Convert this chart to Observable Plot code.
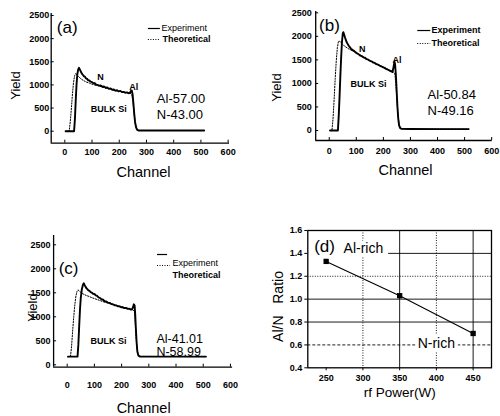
<!DOCTYPE html>
<html><head><meta charset="utf-8">
<script src="https://cdn.jsdelivr.net/npm/d3@7"></script>
<script src="https://cdn.jsdelivr.net/npm/@observablehq/plot@0.6"></script>
<style>
html,body{margin:0;padding:0;background:#fff;}
#fig{position:relative;width:500px;height:416px;overflow:hidden;background:#fff;}
#fig svg{position:absolute;overflow:visible;}
</style></head><body><div id="fig"></div>
<script>
// ---------- data ----------
const channelTicks = [0, 100, 200, 300, 400, 500, 600];
const yieldTicks = [0, 500, 1000, 1500, 2000, 2500];

// [channel, yield]
const aExperiment = [[3,0],[34,0],[37,250],[40,650],[43,1000],[46,1230],[49,1330],[52,1370],[55,1335],[58,1300],[62,1250],[66,1220],[70,1190],[74,1175],[78,1140],[82,1130],[86,1100],[90,1095],[95,1070],[100,1060],[105,1035],[110,1040],[115,1005],[120,1000],[126,985],[132,990],[138,960],[144,965],[150,940],[156,945],[162,915],[168,925],[174,895],[180,900],[186,875],[192,885],[198,860],[204,870],[210,845],[216,850],[222,830],[228,840],[234,820],[239,830],[243,870],[246,880],[249,800],[252,600],[255,380],[258,200],[262,80],[266,30],[272,15],[300,15],[400,15],[512,15]];
const aTheoretical = [[3,0],[16,0],[20,200],[24,480],[28,800],[32,1050],[36,1200],[40,1245],[44,1215],[50,1180],[56,1150],[62,1120],[70,1090],[80,1060],[90,1040],[100,1015],[120,985],[140,950],[160,920],[180,890],[200,862],[220,842],[240,822],[246,790],[250,650],[254,420],[258,200],[262,80],[266,35],[272,15],[512,15]];

const bExperiment = [[3,0],[32,0],[35,300],[38,700],[41,1150],[44,1550],[47,1880],[50,2060],[52,2090],[55,2040],[58,1980],[61,1930],[64,1880],[68,1840],[72,1800],[76,1770],[80,1740],[84,1720],[88,1700],[92,1690],[96,1665],[100,1650],[105,1630],[110,1615],[115,1590],[120,1580],[126,1555],[132,1545],[138,1515],[144,1505],[150,1480],[156,1470],[162,1445],[168,1435],[174,1410],[180,1400],[186,1380],[192,1365],[198,1345],[204,1330],[210,1310],[216,1295],[222,1275],[228,1262],[233,1245],[236,1300],[239,1400],[241,1460],[243,1420],[246,1200],[249,850],[252,500],[255,250],[258,110],[262,50],[268,35],[300,32],[400,30],[515,30]];
const bTheoretical = [[3,0],[10,0],[14,250],[18,650],[22,1100],[26,1480],[30,1760],[34,1890],[38,1900],[42,1870],[48,1840],[55,1800],[62,1770],[70,1740],[80,1710],[90,1680],[100,1650],[120,1585],[140,1515],[160,1455],[180,1400],[200,1345],[220,1290],[236,1250],[242,1220],[246,1000],[250,650],[254,330],[258,140],[262,60],[268,35],[515,30]];

const cExperiment = [[3,170],[38,170],[41,420],[44,800],[47,1150],[50,1400],[54,1580],[58,1670],[61,1700],[64,1660],[67,1630],[70,1600],[74,1575],[78,1550],[82,1540],[86,1515],[90,1505],[95,1480],[100,1475],[105,1445],[110,1435],[115,1405],[120,1395],[126,1365],[132,1355],[138,1325],[144,1320],[150,1295],[156,1290],[162,1265],[168,1262],[174,1240],[180,1238],[186,1220],[192,1218],[198,1200],[204,1198],[210,1182],[216,1185],[222,1165],[228,1168],[234,1150],[239,1158],[242,1200],[245,1260],[248,1230],[250,1050],[252,800],[255,480],[258,270],[262,190],[268,172],[300,170],[510,170]];
const cTheoretical = [[3,170],[12,170],[16,380],[20,700],[24,1000],[28,1250],[32,1430],[36,1530],[40,1560],[44,1540],[50,1510],[56,1485],[62,1465],[70,1445],[80,1425],[90,1400],[100,1380],[120,1340],[140,1300],[160,1270],[180,1240],[200,1210],[220,1180],[240,1150],[247,1110],[250,900],[253,600],[256,380],[260,220],[265,175],[510,170]];

const aComposition = ["Al-57.00", "N-43.00"];
const bComposition = ["Al-50.84", "N-49.16"];
const cComposition = ["Al-41.01", "N-58.99"];

const rfPower = [250, 350, 450];
const alnRatio = [1.33, 1.03, 0.70];
const powerTicks = [250, 300, 350, 400, 450];
const ratioTicks = [0.4, 0.6, 0.8, 1.0, 1.2, 1.4, 1.6];

// ---------- helpers ----------
const FONT = "'Liberation Sans', Arial, Helvetica, sans-serif";
const fig = document.getElementById("fig");
function place(svg, left, top) {
  svg.style.left = left + "px";
  svg.style.top = top + "px";
  fig.appendChild(svg);
}
function T(x, y, text, opts = {}) {
  return Plot.text([{x, y, text}], {x: "x", y: "y", text: "text", fill: "#000", fontSize: 9, fontWeight: "bold", ...opts});
}
const toRows = (arr) => arr.map(([c, v]) => ({c, v}));

function rbsPanel(cfg) {
  const W = 250, H = 208;
  const {xDomain, yDomain, ml, mr, mt, mb, yPad, xPad} = cfg;
  const xu = (xDomain[1] - xDomain[0]) / (W - ml - mr);
  const yu = (yDomain[1] - yDomain[0]) / (H - mt - mb);
  const [x0] = xDomain, [y0] = yDomain;
  return Plot.plot({
    width: W, height: H,
    marginLeft: ml, marginRight: mr, marginTop: mt, marginBottom: mb,
    style: {fontFamily: FONT, fontSize: "9px", fontWeight: "bold", background: "transparent", color: "#000"},
    x: {domain: xDomain, ticks: channelTicks, tickSize: 0, tickPadding: xPad, label: null, tickFormat: d => String(d)},
    y: {domain: yDomain, ticks: yieldTicks, tickSize: 0, tickPadding: yPad, label: null, tickFormat: d => String(d)},
    marks: [
      Plot.ruleX([x0], {stroke: "#000", strokeWidth: 1.3}),
      Plot.ruleY([y0], {stroke: "#000", strokeWidth: 1.3}),
      Plot.ruleY(yieldTicks, {x1: x0, x2: x0 + 3 * xu, stroke: "#000", strokeWidth: 1}),
      Plot.ruleX(channelTicks, {y1: y0, y2: y0 + 3 * yu, stroke: "#000", strokeWidth: 1}),
      Plot.line(toRows(cfg.theo), {x: "c", y: "v", stroke: "#000", strokeWidth: 1, strokeDasharray: "1.3,1.5"}),
      Plot.line(toRows(cfg.exp), {x: "c", y: "v", stroke: "#000", strokeWidth: 1.9}),
      ...cfg.ann
    ]
  });
}

// ---------- panel (a) ----------
place(rbsPanel({
  exp: aExperiment, theo: aTheoretical,
  xDomain: [-50, 605], yDomain: [-259, 2543],
  ml: 50.7, mr: 21, mt: 13, mb: 65.3, yPad: 2, xPad: 5.8,
  ann: [
    T(9, 2240, "(a)", {fontSize: 17, fontWeight: "normal"}),
    Plot.ruleY([2219], {x1: 307, x2: 351, stroke: "#000", strokeWidth: 1.2}),
    T(355, 2219, "Experiment", {textAnchor: "start", fontWeight: "normal"}),
    Plot.ruleY([1981], {x1: 307, x2: 351, stroke: "#000", strokeWidth: 1, strokeDasharray: "1,1.5"}),
    T(359, 1981, "Theoretical", {textAnchor: "start"}),
    T(338, 707, aComposition[0], {textAnchor: "start", fontSize: 13, fontWeight: "normal"}),
    T(338, 361, aComposition[1], {textAnchor: "start", fontSize: 13, fontWeight: "normal"}),
    T(95, 469, "BULK Si", {textAnchor: "start"}),
    T(131, 1160, "N"),
    T(253, 944, "Al"),
    T(-181, 987, "Yield", {rotate: -90, fontSize: 13, fontWeight: "normal"}),
    T(289, -892, "Channel", {fontSize: 14.5, fontWeight: "normal"})
  ]
}), 0, 0);

// ---------- panel (b) ----------
place(rbsPanel({
  exp: bExperiment, theo: bTheoretical,
  xDomain: [-50, 602], yDomain: [-212, 2528],
  ml: 65.2, mr: 8.3, mt: 11, mb: 68, yPad: 4, xPad: 6.8,
  ann: [
    T(1, 2230, "(b)", {fontSize: 17, fontWeight: "normal"}),
    Plot.ruleY([2124], {x1: 327, x2: 375, stroke: "#000", strokeWidth: 1.2}),
    T(378, 2124, "Experiment", {textAnchor: "start"}),
    Plot.ruleY([1848], {x1: 327, x2: 375, stroke: "#000", strokeWidth: 1, strokeDasharray: "1,1.5"}),
    T(378, 1848, "Theoretical", {textAnchor: "start"}),
    T(363, 765, bComposition[0], {textAnchor: "start", fontSize: 13, fontWeight: "normal"}),
    T(363, 425, bComposition[1], {textAnchor: "start", fontSize: 13, fontWeight: "normal"}),
    T(79, 977, "BULK Si", {textAnchor: "start"}),
    T(122, 1720, "N"),
    T(250, 1500, "Al"),
    T(-192, 913, "Yield", {rotate: -90, fontSize: 13, fontWeight: "normal"}),
    T(282, -850, "Channel", {fontSize: 14.5, fontWeight: "normal"})
  ]
}), 250, 0);

// ---------- panel (c) ----------
place(rbsPanel({
  exp: cExperiment, theo: cTheoretical,
  xDomain: [-50, 608], yDomain: [-50, 2694],
  ml: 53.1, mr: 17.9, mt: 27, mb: 49.3, yPad: 3, xPad: 14,
  ann: [
    T(5, 2006, "(c)", {fontSize: 17, fontWeight: "normal"}),
    Plot.ruleY([2298], {x1: 332, x2: 369, stroke: "#000", strokeWidth: 1.2}),
    Plot.ruleY([2069], {x1: 332, x2: 380, stroke: "#000", strokeWidth: 1, strokeDasharray: "1,1.5"}),
    T(387, 2110, "Experiment", {textAnchor: "start", fontWeight: "normal"}),
    T(387, 1860, "Theoretical", {textAnchor: "start"}),
    T(328, 530, cComposition[0], {textAnchor: "start", fontSize: 12.5, fontWeight: "normal"}),
    T(328, 262, cComposition[1], {textAnchor: "start", fontSize: 12.5, fontWeight: "normal"}),
    T(86, 485, "BULK Si", {textAnchor: "start"}),
    T(-128, 1194, "Yield", {rotate: -90, fontSize: 13, fontWeight: "normal"}),
    T(281, -910, "Channel", {fontSize: 14.5, fontWeight: "normal"})
  ]
}), 0, 208);

// ---------- panel (d) ----------
const dRows = rfPower.map((p, i) => ({p, r: alnRatio[i]}));
const halo = {stroke: "white", strokeWidth: 7, fill: "#000"};
place(Plot.plot({
  width: 250, height: 208,
  marginLeft: 57.3, marginRight: 9, marginTop: 22, marginBottom: 48.7,
  style: {fontFamily: FONT, fontSize: "9px", fontWeight: "bold", background: "transparent", color: "#000"},
  x: {domain: [225, 475], ticks: powerTicks, tickSize: 3, tickPadding: 3.5, label: null, tickFormat: d => String(d)},
  y: {domain: [0.4, 1.6], ticks: ratioTicks, tickSize: 3, tickPadding: 2.6, label: null, tickFormat: d => d.toFixed(1)},
  marks: [
    Plot.ruleY([1.0, 0.8], {stroke: "#000", strokeWidth: 0.9}),
    Plot.ruleY([1.4], {x1: 335, x2: 475, stroke: "#000", strokeWidth: 0.9}),
    Plot.ruleY([1.2], {stroke: "#000", strokeWidth: 0.9, strokeDasharray: "1,1.5"}),
    Plot.ruleY([0.6], {stroke: "#000", strokeWidth: 0.9, strokeDasharray: "3,2"}),
    Plot.ruleX([350, 450], {stroke: "#000", strokeWidth: 0.9}),
    Plot.ruleX([300, 400], {stroke: "#000", strokeWidth: 0.9, strokeDasharray: "1,1.5"}),
    Plot.frame({stroke: "#000", strokeWidth: 1.3}),
    Plot.line(dRows, {x: "p", y: "r", stroke: "#000", strokeWidth: 1.1}),
    Plot.dot(dRows, {x: "p", y: "r", symbol: "square", r: 3, fill: "#000", stroke: "none"}),
    T(247.8, 1.46, "(d)", {fontSize: 17, fontWeight: "normal", ...halo}),
    T(273.7, 1.443, "Al-rich", {textAnchor: "start", fontSize: 14, fontWeight: "normal", ...halo}),
    T(374.5, 0.612, "N-rich", {textAnchor: "start", fontSize: 14, fontWeight: "normal", ...halo}),
    T(185.5, 0.936, "Al/N\u00a0\u00a0 Ratio", {rotate: -90, fontSize: 14, fontWeight: "normal"}),
    T(350, 0.184, "rf Power(W)", {fontSize: 13.5, fontWeight: "normal"})
  ]
}), 250, 208);
</script></body></html>
